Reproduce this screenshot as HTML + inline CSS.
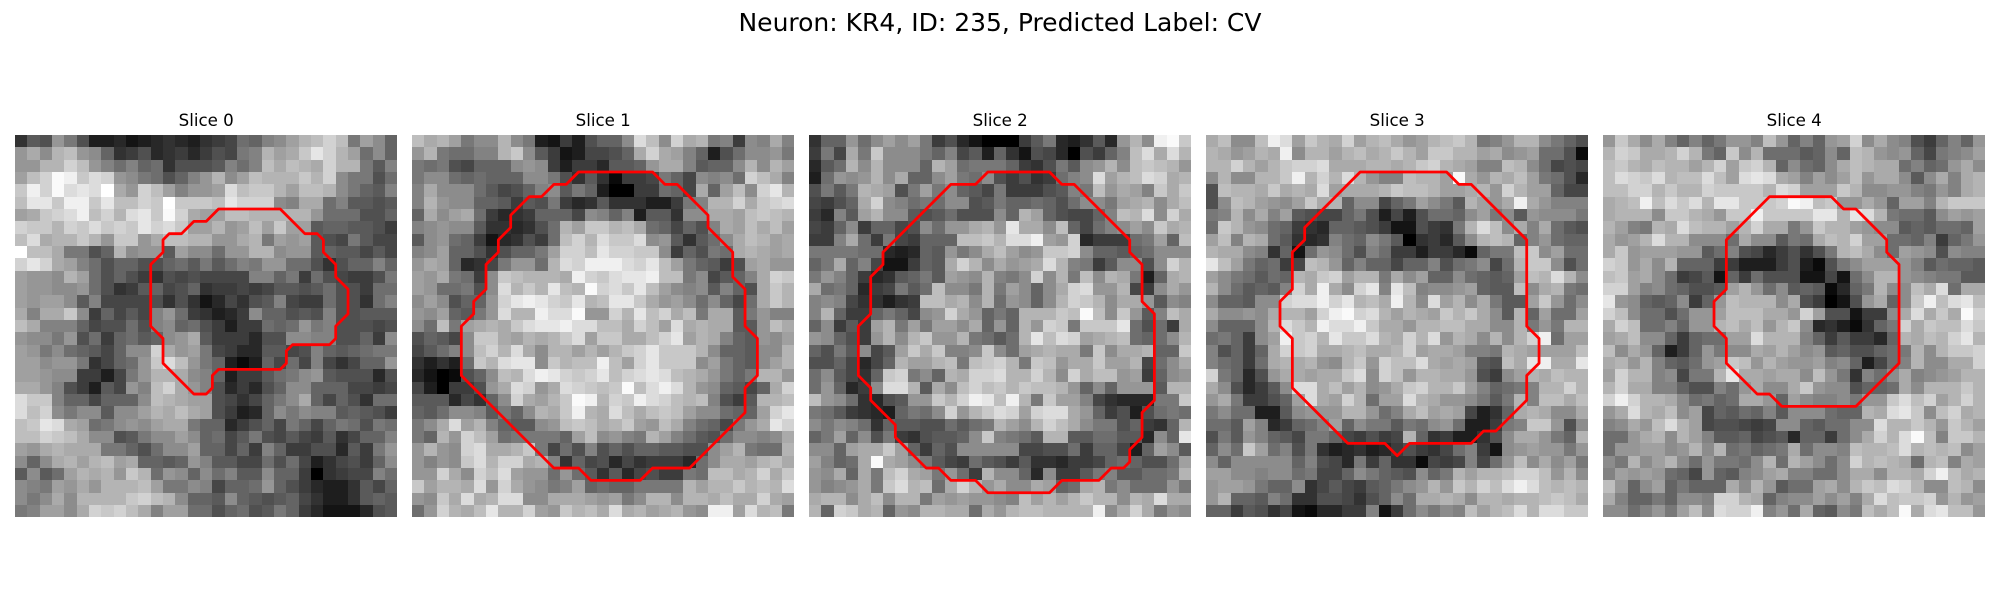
<!DOCTYPE html>
<html lang="en">
<head>
<meta charset="utf-8">
<title>Neuron: KR4, ID: 235, Predicted Label: CV</title>
<style>
html,body{margin:0;padding:0;background:#fff;width:2000px;height:600px;overflow:hidden}
svg{display:block}
text{font-family:"DejaVu Sans","Liberation Sans",sans-serif;fill:#000}
</style>
</head>
<body>
<svg id="figure" xmlns="http://www.w3.org/2000/svg" width="2000" height="600" viewBox="0 0 2000 600">
<text x="1000" y="31" text-anchor="middle" font-size="25">Neuron: KR4, ID: 235, Predicted Label: CV</text>
<g id="panel-0"><text x="206.2" y="126" text-anchor="middle" font-size="16.67">Slice 0</text></g>
<g id="panel-1"><text x="603.2" y="126" text-anchor="middle" font-size="16.67">Slice 1</text></g>
<g id="panel-2"><text x="1000.2" y="126" text-anchor="middle" font-size="16.67">Slice 2</text></g>
<g id="panel-3"><text x="1397.2" y="126" text-anchor="middle" font-size="16.67">Slice 3</text></g>
<g id="panel-4"><text x="1794.2" y="126" text-anchor="middle" font-size="16.67">Slice 4</text></g>
</svg>
<script>
// Intensities: 0 (black) to 25 (white)
const slice0Values = [
[5,9,8,15,12,8,3,3,4,2,3,4,5,4,3,5,6,7,11,10,13,14,16,18,19,21,19,12,16,14,10],
[15,17,14,18,19,15,14,10,5,6,8,4,5,6,4,6,8,7,12,13,18,16,17,20,23,21,18,16,11,14,10],
[15,15,18,18,21,19,15,13,11,13,10,11,5,8,8,8,9,13,11,13,19,17,19,18,17,21,18,18,12,9,13],
[16,19,21,25,24,20,22,21,15,14,12,11,8,10,13,15,18,14,16,19,18,18,18,20,18,21,14,12,12,8,11],
[20,24,21,25,22,23,22,26,17,15,21,19,16,13,15,15,16,22,19,20,20,18,16,19,19,18,14,12,10,9,13],
[19,23,23,20,24,24,20,23,19,19,21,20,26,20,20,20,19,23,21,21,21,14,13,17,17,11,13,9,9,8,9],
[16,17,20,21,22,24,19,21,18,22,23,20,25,21,17,16,16,19,19,18,18,18,18,18,15,11,11,11,8,8,10],
[21,20,20,18,21,20,22,20,21,20,23,21,22,20,16,16,18,15,16,19,16,20,16,16,9,10,10,9,9,8,6],
[19,22,17,18,18,20,18,15,20,20,15,17,19,19,18,18,15,15,17,18,12,16,15,16,9,8,7,12,9,7,7],
[26,19,19,17,12,12,8,10,18,14,15,15,9,16,14,14,11,15,15,18,18,14,15,15,9,10,9,9,7,9,7],
[21,23,21,17,16,13,11,8,10,10,8,8,10,11,9,12,9,11,13,12,15,15,11,11,8,5,8,10,10,13,10],
[16,15,15,14,18,16,11,8,10,8,6,5,8,7,8,7,7,7,7,13,13,10,12,6,11,8,7,6,6,8,12],
[16,15,15,14,14,15,11,8,5,6,9,10,7,8,10,5,6,6,7,6,7,9,9,8,9,11,8,8,6,11,11],
[16,15,16,16,14,9,13,7,7,7,7,8,5,8,5,2,4,7,5,8,9,13,7,6,6,11,8,8,5,11,13],
[17,13,17,17,20,14,6,10,7,9,7,13,15,11,6,5,3,4,6,14,10,10,8,9,8,13,8,8,9,9,9],
[19,17,13,13,13,10,7,8,8,11,8,13,14,10,11,8,6,3,6,6,11,10,11,15,12,13,8,8,8,7,8],
[15,14,14,12,15,8,11,6,10,11,9,10,14,15,17,9,6,6,6,4,8,8,14,14,13,13,8,8,10,6,14],
[16,15,12,14,11,10,9,7,10,14,14,21,17,15,16,12,7,6,4,4,9,9,7,8,13,10,9,10,11,12,12],
[16,16,14,15,15,12,5,7,10,11,15,20,22,19,15,12,10,3,1,3,10,7,11,7,13,7,5,7,10,10,15],
[16,16,15,14,14,6,6,3,7,12,15,18,18,17,14,13,10,3,6,6,9,11,12,14,15,9,8,8,8,4,8],
[17,17,15,13,8,6,3,9,7,15,13,19,21,17,15,13,8,4,6,4,8,10,14,14,10,10,10,7,7,6,7],
[22,20,20,13,10,10,7,10,10,10,14,19,18,17,16,16,8,7,5,7,10,12,14,17,10,7,10,8,5,11,11],
[22,19,21,14,12,14,14,9,14,14,16,18,17,19,17,16,8,6,3,4,10,14,12,14,13,13,9,10,9,8,6],
[19,20,23,22,17,16,11,12,14,15,14,16,17,17,12,10,10,4,6,8,10,7,12,10,7,10,12,11,8,12,11],
[19,19,21,20,19,17,14,14,8,9,12,14,14,16,14,10,11,7,9,12,8,7,9,7,6,9,5,7,10,10,13],
[16,15,17,18,17,17,17,12,12,10,8,11,14,14,16,10,10,7,10,6,13,10,6,6,8,8,4,9,6,12,15],
[14,10,14,17,18,16,18,19,16,17,10,10,9,10,15,13,9,9,7,7,11,8,11,7,3,5,7,8,6,10,14],
[9,14,9,11,16,18,17,18,15,20,18,11,15,14,10,14,11,13,9,9,14,10,10,6,0,5,6,7,7,13,11],
[14,13,12,16,15,17,15,18,18,18,19,16,12,12,14,13,7,10,10,11,15,10,8,6,4,3,3,5,9,7,10],
[14,12,14,17,14,18,18,18,18,20,21,19,18,14,10,10,9,14,10,9,8,9,10,7,5,3,3,5,9,10,9],
[12,13,16,16,14,17,21,20,21,19,17,13,16,16,11,11,8,10,11,8,9,12,10,6,4,2,2,2,4,8,9]
];
const slice1Values = [
[19,17,18,16,12,14,14,18,14,12,3,2,6,3,8,10,10,14,22,19,14,21,17,18,12,13,6,14,13,17,13],
[15,18,12,11,11,13,13,18,20,14,9,6,2,3,7,7,8,10,17,21,17,16,13,10,3,8,11,14,14,15,12],
[12,11,12,8,7,10,10,10,14,15,14,6,3,6,6,4,9,9,10,15,17,17,13,9,10,10,14,18,14,18,16],
[12,14,14,11,10,11,10,10,10,14,14,12,8,5,9,5,1,6,6,7,12,10,7,14,13,14,11,21,19,17,13],
[13,17,14,14,14,11,9,7,8,10,13,14,9,12,10,3,0,0,6,6,11,10,7,17,10,16,19,14,21,23,18],
[13,18,15,14,14,10,10,9,6,9,8,12,6,4,5,9,5,5,5,3,3,6,12,13,18,18,21,17,20,21,22],
[10,17,14,16,17,11,6,4,5,6,10,10,10,7,14,13,10,13,3,9,9,5,14,14,17,17,16,19,20,19,18],
[13,14,15,14,14,9,5,5,4,5,8,11,18,16,20,20,18,19,17,11,10,7,10,8,13,17,16,19,17,19,16],
[9,14,15,11,10,6,2,4,5,8,6,11,19,21,18,22,20,20,22,14,15,9,5,9,11,14,17,19,18,16,17],
[13,14,16,10,10,8,5,8,10,10,12,16,21,21,19,23,21,21,20,20,14,6,10,8,12,11,17,18,17,16,17],
[15,17,16,10,4,5,7,12,15,15,11,18,22,21,24,24,24,22,21,23,19,16,12,10,9,6,8,16,17,15,15],
[16,15,17,12,11,6,14,20,19,18,18,18,17,24,21,20,22,23,23,24,19,19,12,14,7,9,10,13,17,21,20],
[16,15,11,11,12,8,14,22,18,20,18,23,19,18,25,21,22,20,23,19,16,14,13,14,9,13,10,8,17,20,18],
[14,16,14,8,10,10,15,21,23,24,23,21,20,23,18,19,23,23,20,17,15,16,14,11,14,10,7,11,17,20,18],
[15,14,16,10,9,12,15,22,18,18,24,22,22,25,15,15,21,18,23,19,21,17,19,12,17,17,9,12,15,13,13],
[14,11,19,12,16,17,18,17,20,22,23,23,24,22,22,19,19,17,21,19,16,22,17,18,17,17,9,9,15,19,17],
[8,10,9,7,14,20,20,17,16,18,17,18,20,22,16,20,20,17,17,19,21,23,16,18,17,13,10,9,15,14,16],
[7,9,11,13,14,19,21,18,22,17,14,18,18,16,18,16,18,20,21,23,20,20,20,18,14,10,10,9,14,14,18],
[5,3,5,3,11,20,18,22,23,23,14,20,18,19,19,24,19,16,21,23,20,20,20,14,16,12,10,9,14,16,18],
[4,2,0,1,8,10,14,19,18,22,24,23,21,20,21,23,19,21,22,23,22,19,18,17,15,12,10,12,18,18,15],
[7,3,0,6,6,8,15,17,22,21,15,17,22,21,20,19,20,25,19,22,24,22,18,15,14,10,9,7,10,17,21],
[9,9,9,4,7,5,10,14,21,17,16,18,20,25,24,18,21,20,24,22,21,19,18,19,13,8,6,9,18,18,19],
[10,9,11,14,14,13,9,12,10,14,18,17,20,24,18,17,22,19,17,19,20,19,16,14,14,11,10,10,16,21,23],
[12,14,17,22,16,18,13,10,9,9,14,15,19,20,19,17,18,20,16,15,19,17,13,11,10,7,12,15,17,23,21],
[12,10,18,15,21,19,16,11,12,12,12,12,10,16,19,14,15,13,12,18,16,13,11,9,8,11,14,14,13,14,17],
[15,18,15,14,21,22,17,17,18,20,12,7,11,8,13,8,10,8,10,10,9,9,8,8,14,16,18,12,11,11,18],
[15,13,15,14,20,22,18,21,21,17,18,13,5,10,7,8,4,7,5,6,6,6,4,11,14,17,17,16,18,19,17],
[15,15,21,17,14,21,19,22,16,15,15,11,15,11,9,5,9,4,7,8,6,6,12,11,19,19,17,18,21,17,20],
[20,16,18,18,17,22,15,21,17,15,14,12,13,16,10,11,10,10,12,12,12,12,18,16,18,18,20,18,19,18,22],
[15,14,20,17,22,17,18,22,22,14,14,17,17,17,16,15,16,12,14,18,18,14,18,18,17,19,17,17,21,17,16],
[11,15,21,18,17,19,23,18,18,21,16,15,20,18,19,17,22,17,18,16,17,18,15,14,24,24,16,22,18,19,12]
];
const slice2Values = [
[5,10,10,15,11,14,16,14,16,12,6,8,4,2,0,0,0,6,9,12,4,3,5,9,4,15,18,14,24,25,20],
[6,12,7,17,12,20,14,14,14,12,10,13,7,9,3,10,5,2,8,7,4,0,8,6,10,13,19,22,17,22,18],
[4,9,11,18,14,18,14,14,14,10,18,16,11,12,12,12,10,6,5,8,12,9,14,15,18,14,19,20,19,18,15],
[3,11,15,14,15,18,14,17,10,10,14,16,12,11,14,8,6,8,5,6,11,13,14,22,16,18,19,22,21,17,18],
[8,12,9,12,18,17,16,8,12,16,12,14,10,9,7,12,6,6,6,8,9,13,12,19,15,17,16,13,20,17,20],
[7,6,8,10,17,21,14,13,11,12,11,14,14,8,9,12,10,10,11,10,8,11,14,14,12,16,17,18,14,17,19],
[6,4,13,9,16,18,14,14,9,8,9,11,8,8,8,14,10,18,16,10,8,7,7,10,13,19,18,22,14,21,17],
[7,6,10,14,6,10,10,7,8,14,11,15,15,17,18,15,23,17,17,14,19,10,7,11,13,14,16,14,20,17,18],
[6,6,13,17,11,6,12,7,6,10,10,10,19,19,20,18,22,22,24,16,15,21,4,6,6,6,11,12,16,10,19],
[12,12,12,12,11,11,4,3,4,10,9,15,12,14,17,19,16,14,15,20,20,21,14,10,10,9,10,11,14,14,14],
[10,12,17,10,13,7,2,2,6,10,9,17,21,18,14,17,15,16,17,22,18,13,12,6,9,14,14,8,14,21,18],
[12,15,13,10,6,4,5,9,10,12,9,16,15,14,18,13,12,14,21,14,18,12,19,14,18,17,12,3,10,17,18],
[17,11,12,10,4,6,7,12,9,11,19,14,14,12,18,12,16,14,10,14,17,21,22,15,15,18,7,6,14,17,15],
[13,14,13,7,5,5,3,5,6,19,19,17,18,14,18,11,15,14,10,14,18,21,20,18,14,17,17,15,9,14,13],
[13,18,10,6,6,10,12,10,7,14,15,21,17,15,10,12,10,18,18,18,20,19,25,19,14,20,15,9,13,19,17],
[10,14,6,9,6,16,18,12,16,12,16,16,14,17,10,15,10,18,15,21,20,12,20,20,20,23,11,8,11,6,17],
[15,14,10,8,6,15,18,14,18,20,15,15,18,12,11,9,11,18,23,19,22,21,16,17,18,19,11,10,11,14,18],
[10,8,12,9,14,7,9,16,20,17,20,13,13,14,20,14,11,16,17,18,17,17,12,20,14,17,17,18,10,10,20],
[8,8,10,7,4,7,10,18,16,16,18,19,12,19,20,21,18,12,20,19,15,17,17,20,16,16,18,7,11,14,17],
[11,14,9,7,5,10,20,21,12,14,10,18,17,21,21,22,18,18,21,18,14,21,17,19,19,15,16,6,10,14,15],
[11,15,10,4,6,14,22,22,18,9,17,14,19,21,19,20,18,20,19,19,18,15,10,14,10,15,15,15,9,18,18],
[19,15,14,11,5,4,8,9,15,15,20,18,21,24,23,19,24,18,12,20,16,16,13,7,5,4,4,4,12,12,20],
[12,11,9,6,5,4,3,10,12,11,14,21,15,18,20,22,21,16,21,22,22,17,15,10,6,8,3,8,11,12,11],
[14,12,14,13,11,5,10,9,9,8,8,11,9,11,12,18,16,14,18,21,19,17,14,12,12,8,10,6,5,10,18],
[10,12,16,10,14,8,12,6,5,8,9,9,10,14,20,13,12,11,9,18,18,9,9,11,11,9,9,4,14,10,23],
[14,14,10,16,17,17,20,16,10,6,10,8,14,14,14,14,14,7,7,8,8,11,6,10,10,7,3,10,16,14,9],
[16,13,10,11,17,25,17,16,14,12,9,7,6,11,9,8,6,9,5,5,4,6,6,7,10,11,10,8,8,11,16],
[15,14,17,10,17,12,19,21,17,16,12,15,11,6,18,14,14,10,4,14,6,6,9,12,13,9,9,11,11,12,18],
[15,13,14,15,17,12,20,22,18,19,11,17,21,18,15,17,14,14,17,16,10,11,17,18,12,14,11,11,11,15,12],
[17,18,18,14,17,19,14,18,18,12,16,15,16,15,15,14,13,19,16,18,16,18,20,18,18,14,18,17,22,17,17],
[18,10,21,20,17,18,10,15,14,18,18,17,17,11,17,15,18,19,19,18,18,18,18,24,14,17,21,17,12,15,14]
];
const slice3Values = [
[17,19,14,14,19,24,22,16,20,18,17,21,16,18,19,17,15,16,18,19,20,18,12,13,15,18,18,14,12,10,8],
[18,17,15,16,18,17,24,14,18,18,16,18,19,17,18,20,18,16,20,20,18,18,16,17,14,15,16,11,11,8,1],
[18,18,21,18,16,18,20,21,21,22,17,17,17,18,18,17,18,20,21,18,17,16,13,13,19,18,14,11,7,8,7],
[14,18,14,14,18,18,20,24,18,21,18,22,18,15,13,13,19,18,18,16,25,17,15,18,17,19,16,12,11,8,4],
[8,19,18,18,17,20,17,18,17,22,16,17,17,17,18,20,19,19,18,16,16,17,18,15,21,18,16,16,10,7,7],
[8,14,19,18,16,15,14,16,20,17,18,10,14,14,7,10,12,16,14,12,9,18,16,15,17,24,17,15,13,13,13],
[12,13,18,14,17,13,16,9,8,7,7,10,12,8,3,7,3,8,11,11,10,14,16,12,14,9,15,14,14,14,12],
[11,20,18,15,14,11,10,6,5,4,10,10,9,8,6,2,2,8,6,5,12,18,22,19,14,17,13,17,11,9,8],
[16,19,13,18,17,11,9,5,4,5,13,11,10,14,12,9,0,5,6,4,9,14,18,19,18,10,13,15,11,10,10],
[18,17,17,14,13,5,10,2,11,15,14,11,8,13,11,6,6,3,6,6,4,1,10,12,12,19,20,14,16,11,11],
[23,19,16,12,10,11,6,7,19,18,15,10,13,10,10,7,10,10,13,8,11,12,14,7,11,18,20,20,14,8,11],
[16,14,12,11,9,11,10,18,17,20,21,16,18,18,12,17,14,16,10,10,14,11,10,9,10,16,19,18,22,18,14],
[18,14,11,9,10,9,13,21,17,24,17,14,21,23,13,23,19,13,14,14,15,16,10,9,9,19,14,17,18,12,11],
[14,10,10,9,14,14,21,22,22,24,21,23,18,19,17,24,18,14,22,16,18,14,17,12,9,9,16,20,15,11,14],
[17,14,14,15,14,17,18,18,16,21,24,25,21,22,18,16,18,17,16,20,18,20,17,14,9,18,10,16,11,11,16],
[14,10,10,10,14,18,22,20,18,24,22,22,24,20,17,17,15,18,18,19,19,17,17,14,14,18,12,15,12,18,18],
[11,12,10,6,14,16,24,20,21,18,23,20,20,22,18,17,21,18,22,15,18,17,14,18,14,18,21,24,11,16,16],
[13,8,10,6,10,17,21,20,21,17,17,18,19,17,17,18,21,16,17,17,16,13,13,12,18,17,16,16,16,16,19],
[13,11,10,6,11,17,18,17,18,15,14,18,20,15,21,19,19,22,17,16,17,16,9,8,19,17,23,24,17,17,23],
[21,12,10,4,8,15,17,17,16,17,17,20,22,14,21,19,15,18,18,17,17,15,8,6,14,16,18,17,19,18,18],
[17,14,8,4,6,9,14,22,22,17,19,16,18,14,15,17,20,21,18,18,20,16,13,10,11,12,13,18,18,21,18],
[15,17,12,6,6,8,10,16,22,17,16,21,18,11,16,16,22,18,17,15,15,14,12,9,12,18,13,19,19,17,19],
[12,14,11,11,3,3,9,14,15,15,15,18,18,15,11,13,17,19,16,17,16,7,3,5,10,17,18,17,14,14,17],
[11,11,9,16,13,4,6,10,11,13,16,10,14,12,12,9,12,11,14,15,11,3,3,6,12,13,20,20,15,8,14],
[8,12,9,15,13,10,9,7,12,12,10,7,6,8,6,7,18,10,5,6,3,3,5,8,14,17,17,15,12,10,18],
[10,14,11,20,16,11,13,8,12,5,3,4,5,3,4,6,8,6,5,7,11,13,6,2,14,15,16,15,15,12,15],
[14,10,14,14,14,14,14,10,13,8,7,4,12,6,10,5,5,1,7,6,7,13,7,11,15,19,14,17,14,16,12],
[16,16,14,14,13,14,14,11,12,7,7,10,14,12,10,9,8,14,10,12,18,16,18,18,19,21,21,19,15,18,14],
[15,16,16,15,12,10,10,14,5,7,9,7,6,9,10,12,14,15,18,15,20,18,21,19,22,24,22,19,18,19,18],
[15,18,10,10,9,13,11,5,5,8,8,7,5,8,10,14,11,17,17,18,17,14,18,18,17,18,18,19,20,19,17],
[10,10,6,9,8,5,7,2,1,4,4,6,6,13,2,6,11,14,12,14,13,19,16,18,19,22,18,22,22,20,20]
];
const slice4Values = [
[15,20,17,14,17,13,10,13,10,12,15,15,13,19,15,10,13,10,15,16,21,14,17,14,13,8,6,10,13,10,15],
[18,21,20,17,17,18,21,18,12,10,20,14,18,11,11,11,9,10,14,10,19,18,15,14,15,10,7,12,13,14,16],
[19,20,18,17,19,18,18,16,18,21,16,20,21,18,10,14,11,10,14,17,19,18,17,17,11,13,10,11,15,17,14],
[19,22,21,20,22,18,19,19,22,19,16,22,23,22,17,16,13,16,14,16,19,15,17,17,14,9,14,17,13,17,18],
[19,19,21,21,18,20,18,18,21,20,20,20,20,18,22,21,16,16,16,20,18,14,14,15,15,13,12,15,13,17,18],
[17,18,19,24,19,22,20,22,18,23,23,20,20,20,21,25,24,19,20,15,15,17,15,10,16,16,13,18,20,20,20],
[17,18,18,18,14,20,20,18,17,15,20,20,24,20,20,20,20,23,23,18,23,22,18,12,11,11,9,14,16,15,16],
[18,16,13,12,18,17,22,19,18,18,16,18,21,17,17,12,15,20,18,18,16,15,14,14,9,10,9,11,11,10,16],
[17,15,16,18,22,18,18,14,14,14,11,17,14,14,9,12,11,17,19,18,21,16,16,11,11,10,13,6,10,12,15],
[17,20,15,16,16,16,15,15,9,11,13,8,7,4,6,8,5,8,12,18,19,17,14,11,16,15,14,8,14,13,13],
[21,20,15,17,14,18,10,10,10,6,6,3,3,3,6,8,3,1,8,12,14,16,16,16,15,13,9,11,10,10,9],
[19,20,16,17,14,11,6,7,9,2,10,6,11,8,8,8,2,2,7,2,11,14,18,18,15,14,13,12,12,9,9],
[21,21,16,13,14,11,10,8,8,9,16,18,15,11,14,9,10,9,1,4,10,12,18,14,14,19,17,22,11,17,17],
[23,15,14,10,9,10,14,6,10,15,19,18,18,18,14,17,8,6,0,2,8,15,17,10,14,20,24,19,22,23,19],
[21,19,14,11,11,8,11,15,15,16,19,19,19,17,17,15,21,16,8,8,2,6,6,14,17,22,17,20,17,25,21],
[17,21,19,11,11,13,10,15,15,18,19,17,19,15,18,20,14,4,5,3,1,5,10,12,21,17,20,19,19,22,20],
[16,17,19,14,14,10,6,10,11,11,16,16,22,18,18,18,13,10,6,9,6,6,4,10,18,17,19,18,21,23,18],
[19,14,17,15,10,3,6,10,15,12,14,14,17,16,18,16,14,15,9,10,8,8,10,11,12,18,14,18,20,20,21],
[17,18,15,18,13,10,9,11,15,16,20,19,15,18,16,15,15,16,13,14,10,3,7,11,13,18,14,14,17,17,21],
[16,21,18,18,13,14,7,12,12,18,23,17,17,16,17,17,14,19,15,12,5,13,11,14,17,13,14,15,16,18,18],
[18,21,17,17,13,13,10,8,8,13,11,15,17,14,14,17,20,15,14,14,8,10,10,11,17,14,18,18,18,20,18],
[21,24,21,18,18,17,14,11,12,10,11,17,17,15,10,16,14,13,13,14,12,15,15,20,22,19,21,16,18,21,18],
[15,17,22,18,17,19,14,16,7,10,9,11,10,13,9,14,14,14,11,10,10,18,17,22,23,20,14,19,21,17,18],
[13,14,17,15,19,22,18,16,7,8,8,7,6,7,14,14,10,9,11,11,14,14,22,18,18,20,18,15,20,18,16],
[11,11,15,17,18,14,18,16,13,9,9,10,7,8,9,4,10,10,6,11,14,17,21,18,22,25,19,13,20,20,18],
[11,15,15,16,16,14,15,18,14,18,11,12,10,11,12,17,11,14,14,13,19,18,18,19,22,18,19,18,19,14,16],
[14,12,18,14,16,18,14,11,15,12,12,11,14,18,11,18,16,14,11,14,21,18,19,18,17,11,18,19,13,17,16],
[13,16,15,16,15,11,10,7,15,10,9,13,14,16,17,13,13,11,11,14,17,17,14,18,18,17,21,24,19,17,18],
[19,15,10,14,16,10,12,10,10,10,17,14,18,15,9,11,11,16,17,14,18,20,19,22,21,18,14,14,19,18,14],
[17,13,10,10,12,10,14,14,13,21,21,18,17,10,13,14,14,16,14,16,13,17,22,19,20,20,21,15,18,15,16],
[14,14,11,13,15,12,16,19,14,22,21,21,24,13,15,11,17,10,9,14,12,19,17,19,25,17,22,23,19,19,15]
];
// Segmentation outlines, in image cell units
const slice0Outline = [[16.5,6],[21.5,6],[23.5,8],[24.5,8],[25,8.5],[25,9.5],[26,10.5],[26,11.5],[27,12.5],[27,14.5],[26,15.5],[26,16.5],[25.5,17],[22.5,17],[22,17.5],[22,18.5],[21.5,19],[16.5,19],[16,19.5],[16,20.5],[15.5,21],[14.5,21],[12,18.5],[12,16.5],[11,15.5],[11,10.5],[12,9.5],[12,8.5],[12.5,8],[13.5,8],[14.5,7],[15.5,7]];
const slice1Outline = [[13.5,3],[19.5,3],[20.5,4],[21.5,4],[24,6.5],[24,7.5],[26,9.5],[26,11.5],[27,12.5],[27,15.5],[28,16.5],[28,19.5],[27,20.5],[27,22.5],[22.5,27],[19.5,27],[18.5,28],[14.5,28],[13.5,27],[11.5,27],[4,19.5],[4,15.5],[5,14.5],[5,13.5],[6,12.5],[6,10.5],[7,9.5],[7,8.5],[8,7.5],[8,6.5],[9.5,5],[10.5,5],[11.5,4],[12.5,4]];
const slice2Outline = [[14.5,3],[19.5,3],[20.5,4],[21.5,4],[26,8.5],[26,9.5],[27,10.5],[27,13.5],[28,14.5],[28,21.5],[27,22.5],[27,24.5],[26,25.5],[26,26.5],[25.5,27],[24.5,27],[23.5,28],[20.5,28],[19.5,29],[14.5,29],[13.5,28],[11.5,28],[10.5,27],[9.5,27],[7,24.5],[7,23.5],[5,21.5],[5,20.5],[4,19.5],[4,15.5],[5,14.5],[5,11.5],[6,10.5],[6,9.5],[11.5,4],[13.5,4]];
const slice3Outline = [[12.5,3],[19.5,3],[20.5,4],[21.5,4],[26,8.5],[26,15.5],[27,16.5],[27,18.5],[26,19.5],[26,21.5],[23.5,24],[22.5,24],[21.5,25],[16.5,25],[15.5,26],[14.5,25],[11.5,25],[7,20.5],[7,16.5],[6,15.5],[6,13.5],[7,12.5],[7,9.5],[8,8.5],[8,7.5]];
const slice4Outline = [[13.5,5],[18.5,5],[19.5,6],[20.5,6],[23,8.5],[23,9.5],[24,10.5],[24,18.5],[20.5,22],[14.5,22],[13.5,21],[12.5,21],[10,18.5],[10,16.5],[9,15.5],[9,13.5],[10,12.5],[10,8.5]];

const svgNS = 'http://www.w3.org/2000/svg';
const panelLefts = [15, 412, 809, 1206, 1603];
const plotTop = 135;
const plotSize = 382.4;
const gridSize = 31;
const allValues = [slice0Values, slice1Values, slice2Values, slice3Values, slice4Values];
const allOutlines = [slice0Outline, slice1Outline, slice2Outline, slice3Outline, slice4Outline];

function xAxis(panel, u) { return panelLefts[panel] + u * plotSize / gridSize; }
function yAxis(v) { return plotTop + v * plotSize / gridSize; }
function colorScale(value) {
  const g = Math.max(0, Math.min(255, Math.round(value * 10)));
  return 'rgb(' + g + ',' + g + ',' + g + ')';
}

allValues.forEach(function (rows, panel) {
  const group = document.getElementById('panel-' + panel);
  rows.forEach(function (row, r) {
    row.forEach(function (value, c) {
      const x0 = Math.round(xAxis(panel, c));
      const x1 = Math.round(xAxis(panel, c + 1));
      const y0 = Math.round(yAxis(r));
      const y1 = Math.round(yAxis(r + 1));
      const cell = document.createElementNS(svgNS, 'rect');
      cell.setAttribute('x', x0);
      cell.setAttribute('y', y0);
      cell.setAttribute('width', x1 - x0);
      cell.setAttribute('height', y1 - y0);
      cell.setAttribute('fill', colorScale(value));
      cell.setAttribute('shape-rendering', 'crispEdges');
      
      
      group.appendChild(cell);
    });
  });
  const outline = document.createElementNS(svgNS, 'polygon');
  const pts = allOutlines[panel].map(function (p) {
    return xAxis(panel, p[0]).toFixed(2) + ',' + yAxis(p[1]).toFixed(2);
  }).join(' ');
  outline.setAttribute('points', pts);
  outline.setAttribute('fill', 'none');
  outline.setAttribute('stroke', '#ff0000');
  outline.setAttribute('stroke-width', '2.78');
  outline.setAttribute('stroke-linejoin', 'round');
  
  
  group.appendChild(outline);
});
</script>
</body>
</html>
